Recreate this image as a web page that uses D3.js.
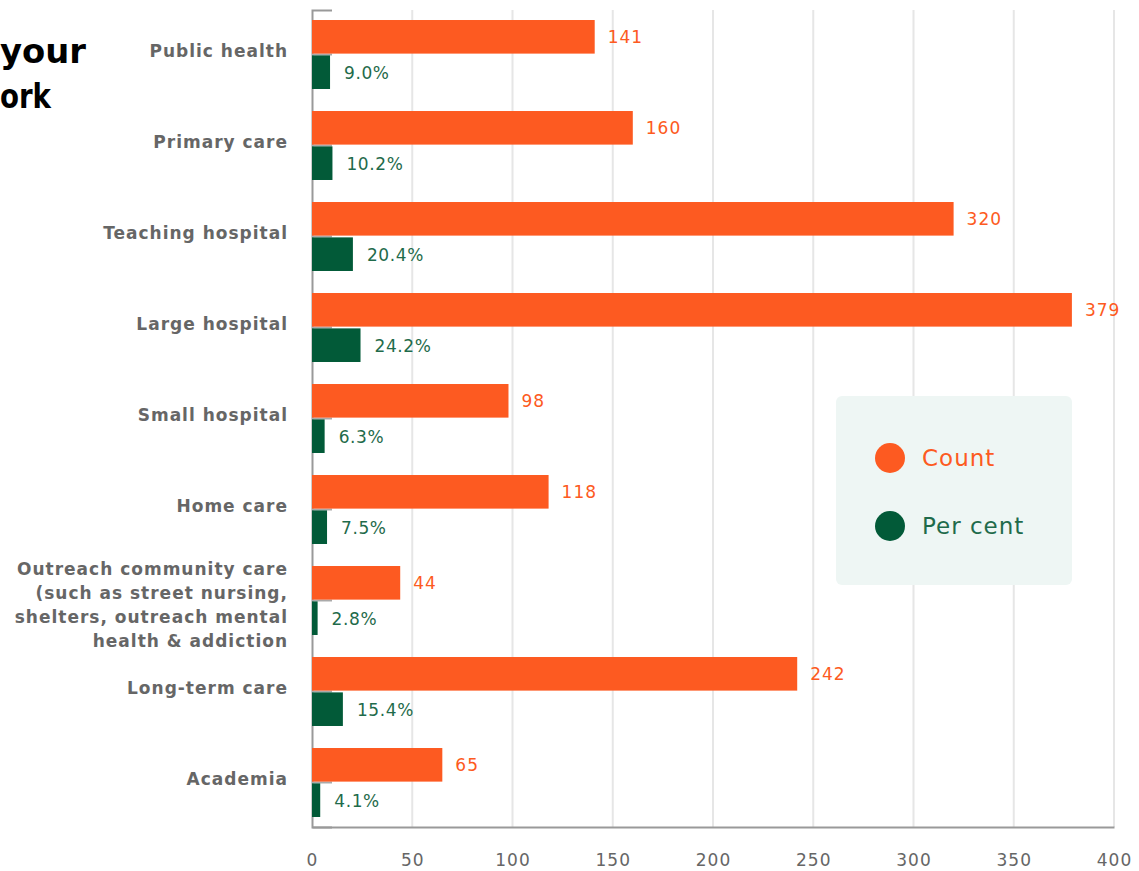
<!DOCTYPE html>
<html>
<head>
<meta charset="utf-8">
<script src="https://cdn.jsdelivr.net/npm/d3@7"></script>
<style>
  html, body { margin: 0; padding: 0; background: #fff; }
  svg { display: block; font-family: "DejaVu Sans", "Open Sans", sans-serif; }
</style>
</head>
<body>
<svg id="chart" width="1139" height="871"></svg>
<script>
// Workplace sectors: counts and share of respondents
const categories = [
  "Public health",
  "Primary care",
  "Teaching hospital",
  "Large hospital",
  "Small hospital",
  "Home care",
  "Outreach community care\n(such as street nursing,\nshelters, outreach mental\nhealth & addiction",
  "Long-term care",
  "Academia"
];
const countValues = [141, 160, 320, 379, 98, 118, 44, 242, 65];
const percentValues = [9.0, 10.2, 20.4, 24.2, 6.3, 7.5, 2.8, 15.4, 4.1];
const seriesNames = ["Count", "Per cent"];
const xTicks = [0, 50, 100, 150, 200, 250, 300, 350, 400];
const titleLines = ["your", "ork"];

const ORANGE = "#fd5a21";
const GREEN = "#025a38";
const GREEN_TEXT = "#1f6b4b";
const GREY_TEXT = "#666666";

const svg = d3.select("#chart");

const x = d3.scaleLinear().domain([0, 400]).range([312, 1114]);
const y = d3.scaleBand().domain(categories).range([10, 827])
  .paddingInner(0.242).paddingOuter(0.11);
const sub = d3.scaleBand().domain(seriesNames).range([0, y.bandwidth()]).paddingInner(0.05);

// Title (first part runs past the left edge)
svg.append("g").selectAll("text").data(titleLines).join("text")
  .attr("x", 0)
  .attr("y", (d, i) => 63 + i * 45)
  .attr("font-size", 34)
  .attr("font-weight", 700)
  .attr("fill", "#000")
  .attr("textLength", (d, i) => i === 0 ? 86 : 51)
  .attr("lengthAdjust", "spacingAndGlyphs")
  .text(d => d);

// Vertical gridlines
svg.append("g").selectAll("line").data(xTicks.slice(1)).join("line")
  .attr("x1", d => x(d)).attr("x2", d => x(d))
  .attr("y1", 10).attr("y2", 827)
  .attr("stroke", "#e6e6e6").attr("stroke-width", 2);

// Bottom axis
const xAxis = svg.append("g").attr("transform", "translate(0,827)")
  .call(d3.axisBottom(x).tickValues(xTicks).tickSize(0).tickPadding(27));
xAxis.select(".domain").attr("stroke", "#999").attr("stroke-width", 2);
xAxis.selectAll("text").attr("font-size", 17).attr("fill", GREY_TEXT)
  .attr("letter-spacing", 1)
  .attr("font-family", "DejaVu Sans, sans-serif");

// Left axis with short inward ticks
const yAxis = svg.append("g").attr("transform", "translate(312,0)")
  .call(d3.axisLeft(y).tickSize(-20).tickFormat(""));
yAxis.select(".domain").attr("stroke", "#999").attr("stroke-width", 2);
yAxis.selectAll(".tick line").attr("stroke", "#aaa").attr("stroke-width", 2);

// Category labels
const labels = svg.append("g").selectAll("text").data(categories).join("text")
  .attr("text-anchor", "end")
  .attr("font-size", 17)
  .attr("font-weight", 700)
  .attr("letter-spacing", 1)
  .attr("fill", GREY_TEXT);
labels.each(function (d) {
  const lines = d.split("\n");
  const cy = y(d) + y.bandwidth() / 2 + (lines.length > 1 ? 5 : -3);
  const lh = 24;
  d3.select(this).selectAll("tspan").data(lines).join("tspan")
    .attr("x", 288)
    .attr("y", (l, i) => cy + (i - (lines.length - 1) / 2) * lh)
    .attr("dy", "0.35em")
    .text(l => l);
});

// Bars
const rows = categories.map((c, i) => ({ c, count: countValues[i], pct: percentValues[i] }));
const g = svg.append("g");
g.selectAll("rect.count").data(rows).join("rect").attr("class", "count")
  .attr("x", x(0)).attr("y", d => y(d.c) + sub("Count"))
  .attr("width", d => x(d.count) - x(0)).attr("height", sub.bandwidth())
  .attr("fill", ORANGE);
g.selectAll("rect.pct").data(rows).join("rect").attr("class", "pct")
  .attr("x", x(0)).attr("y", d => y(d.c) + sub("Per cent"))
  .attr("width", d => x(d.pct) - x(0)).attr("height", sub.bandwidth())
  .attr("fill", GREEN);

// Value labels
g.selectAll("text.count").data(rows).join("text").attr("class", "count")
  .attr("x", d => x(d.count) + 13)
  .attr("y", d => y(d.c) + sub("Count") + sub.bandwidth() / 2)
  .attr("dy", "0.35em").attr("font-size", 17).attr("letter-spacing", 1)
  .attr("fill", ORANGE)
  .text(d => d.count);
g.selectAll("text.pct").data(rows).join("text").attr("class", "pct")
  .attr("x", d => x(d.pct) + 14)
  .attr("y", d => y(d.c) + sub("Per cent") + sub.bandwidth() / 2 + 1)
  .attr("dy", "0.35em").attr("font-size", 17).attr("letter-spacing", 0.6)
  .attr("fill", GREEN_TEXT)
  .text(d => d.pct.toFixed(1) + "%");

// Legend
const legend = svg.append("g").attr("transform", "translate(836,396)");
legend.append("rect").attr("width", 236).attr("height", 189).attr("rx", 6)
  .attr("fill", "#eef6f4");
const items = legend.selectAll("g").data(seriesNames).join("g")
  .attr("transform", (d, i) => `translate(0,${62 + i * 68})`);
items.append("circle").attr("cx", 54).attr("r", 15)
  .attr("fill", (d, i) => i === 0 ? ORANGE : GREEN);
items.append("text").attr("x", 86).attr("dy", "0.35em").attr("font-size", 23)
  .attr("letter-spacing", 1)
  .attr("fill", (d, i) => i === 0 ? ORANGE : GREEN_TEXT)
  .text(d => d);
</script>
</body>
</html>
